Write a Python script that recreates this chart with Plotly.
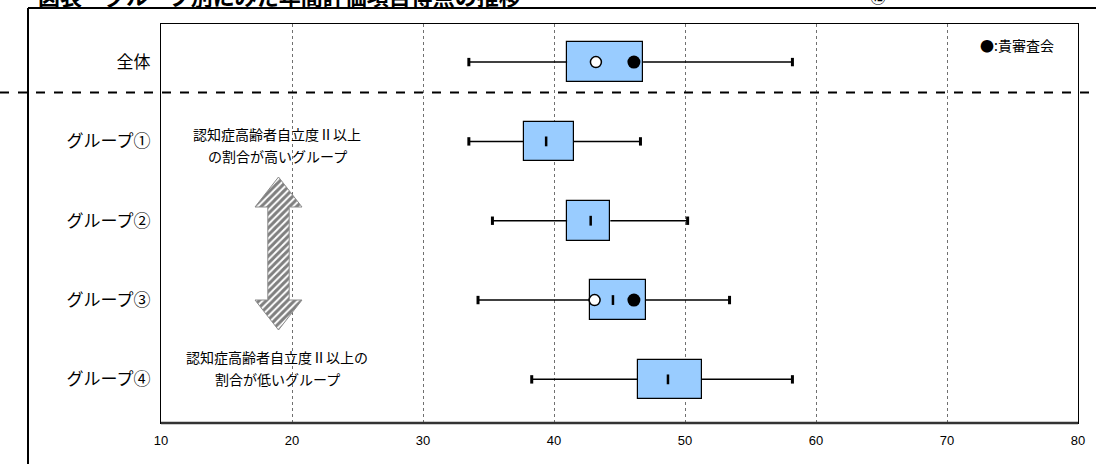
import plotly.graph_objects as go

# ---------------- data ----------------
categories = ['全体', 'グループ①', 'グループ②', 'グループ③', 'グループ④']
whisker_min = [33.5, 33.5, 35.3, 34.2, 38.3]
q1 = [41.0, 37.7, 41.0, 42.75, 46.4]
median = [None, 39.4, 42.8, 44.5, 48.7]
q3 = [46.8, 41.5, 44.3, 47.0, 51.3]
whisker_max = [58.2, 46.6, 50.2, 53.4, 58.2]
open_point = [43.2, None, None, 43.1, None]      # ○
own_council = [46.1, None, None, 46.1, None]     # ●:貴審査会
x_ticks = [10, 20, 30, 40, 50, 60, 70, 80]

JP = "Noto Sans CJK JP"
W, H = 1096, 464
L, R, T, B = 161, 18, 24, 41
pw, ph = W - L - R, H - T - B

fig = go.Figure()

# whisker segments
wx, wy = [], []
for c, lo, a, b, hi in zip(categories, whisker_min, q1, q3, whisker_max):
    wx += [lo, a, None, b, hi, None]
    wy += [c, c, None, c, c, None]
fig.add_trace(go.Scatter(x=wx, y=wy, mode='lines', line=dict(color='black', width=1.5),
                         hoverinfo='skip', showlegend=False))
# whisker caps
fig.add_trace(go.Scatter(x=whisker_min + whisker_max, y=categories + categories, mode='markers',
                         marker=dict(symbol='line-ns', size=6, line=dict(color='black', width=3)),
                         showlegend=False))
# boxes
fig.add_trace(go.Bar(y=categories, x=[b - a for a, b in zip(q1, q3)], base=q1, orientation='h',
                     width=0.5, marker=dict(color='#99CCFF', line=dict(color='black', width=1.2)),
                     showlegend=False))
# medians
mx = [m for m in median if m is not None]
my = [c for c, m in zip(categories, median) if m is not None]
fig.add_trace(go.Scatter(x=mx, y=my, mode='markers',
                         marker=dict(symbol='line-ns', size=7, line=dict(color='black', width=2.5)),
                         showlegend=False))
# open circles
ox = [v for v in open_point if v is not None]
oy = [c for c, v in zip(categories, open_point) if v is not None]
fig.add_trace(go.Scatter(x=ox, y=oy, mode='markers',
                         marker=dict(symbol='circle', size=11, color='white', line=dict(color='black', width=1.5)),
                         showlegend=False))
# filled circles
fx = [v for v in own_council if v is not None]
fy = [c for c, v in zip(categories, own_council) if v is not None]
fig.add_trace(go.Scatter(x=fx, y=fy, mode='markers',
                         marker=dict(symbol='circle', size=13, color='black'),
                         showlegend=False))

# decorative double arrow (pixel-like overlay axes)
cx, top_tip, head_base_top, head_base_bot, bot_tip = 278.5, 177, 207, 300, 330
hw, sw = 23.5, 10.7
arrow_x = [cx, cx + hw, cx + sw, cx + sw, cx + hw, cx, cx - hw, cx - sw, cx - sw, cx - hw, cx]
arrow_y = [top_tip, head_base_top, head_base_top, head_base_bot, head_base_bot, bot_tip,
           head_base_bot, head_base_bot, head_base_top, head_base_top, top_tip]
fig.add_trace(go.Scatter(x=arrow_x, y=arrow_y, xaxis='x2', yaxis='y2', mode='lines', fill='toself',
                         fillcolor='white',
                         fillpattern=dict(shape='/', fgcolor='black', bgcolor='white', size=5, solidity=0.6),
                         line=dict(color='#8c8c8c', width=1), hoverinfo='skip', showlegend=False))

fig.update_layout(
    width=W, height=H,
    margin=dict(l=L, r=R, t=T, b=B, autoexpand=False),
    paper_bgcolor='white', plot_bgcolor='white',
    bargap=0,
    xaxis=dict(range=[10, 80], tickvals=x_ticks, ticktext=[str(v) for v in x_ticks],
               showgrid=True, gridcolor='#707070', griddash='dot', gridwidth=1,
               showline=True, linecolor='black', linewidth=1, mirror=True,
               ticks='', zeroline=False, automargin=False, ticklabelstandoff=5,
               tickfont=dict(family='Liberation Sans Narrow, Liberation Sans', size=13, color='black')),
    yaxis=dict(type='category', categoryorder='array', categoryarray=categories,
               range=[4.55, -0.48], autorange=False, automargin=False,
               showgrid=False, showline=True, linecolor='black', linewidth=1, mirror=True,
               ticks='', ticklabelstandoff=6,
               tickfont=dict(family=JP, size=17, color='black')),
    xaxis2=dict(range=[L, W - R], overlaying='x', visible=False, anchor='y2'),
    yaxis2=dict(range=[H - B, T], overlaying='y', visible=False, anchor='x2'),
    font=dict(family=JP, color='black'),
)

def px(x):
    return (x - L) / pw

def py(y):
    return (H - B - y) / ph

shapes = [
    # dashed separator
    dict(type='line', xref='paper', yref='paper', x0=px(0), x1=px(W), y0=py(92.5), y1=py(92.5),
         line=dict(color='black', width=2, dash='dash')),
    # thick bottom axis
    dict(type='line', xref='paper', yref='paper', x0=0, x1=1, y0=0, y1=0,
         line=dict(color='#333333', width=2.5)),
    # outer frame
    dict(type='line', xref='paper', yref='paper', x0=px(28), x1=px(W), y0=py(8), y1=py(8),
         line=dict(color='black', width=2)),
    dict(type='line', xref='paper', yref='paper', x0=px(28), x1=px(28), y0=py(8), y1=py(H),
         line=dict(color='black', width=2)),
]
fig.update_layout(shapes=shapes)

ann = [
    dict(text='図表　グループ別にみた年間評価項目得点の推移', xref='paper', yref='paper',
         x=px(36), y=py(-5), xanchor='left', yanchor='middle', showarrow=False,
         font=dict(family=JP, size=22, color='black', weight='bold')),
    dict(text='⑫', xref='paper', yref='paper', x=px(878), y=py(-4), xanchor='center', yanchor='middle',
         showarrow=False, font=dict(family=JP, size=16, color='black')),
    dict(text='●:貴審査会', xref='paper', yref='paper', x=px(1017), y=py(45), xanchor='center',
         yanchor='middle', showarrow=False, font=dict(family=JP, size=14, color='black')),
    dict(text='認知症高齢者自立度Ⅱ以上', xref='x2', yref='y2', x=277, y=134, showarrow=False,
         font=dict(family=JP, size=14, color='black')),
    dict(text='の割合が高いグループ', xref='x2', yref='y2', x=277, y=156, showarrow=False,
         font=dict(family=JP, size=14, color='black')),
    dict(text='認知症高齢者自立度Ⅱ以上の', xref='x2', yref='y2', x=277, y=357, showarrow=False,
         font=dict(family=JP, size=14, color='black')),
    dict(text='割合が低いグループ', xref='x2', yref='y2', x=277, y=379, showarrow=False,
         font=dict(family=JP, size=14, color='black')),
]
fig.update_layout(annotations=ann)

fig.write_html("out.html", config={'displayModeBar': False},
               post_script="document.body.style.margin='0';document.body.style.padding='0';")
